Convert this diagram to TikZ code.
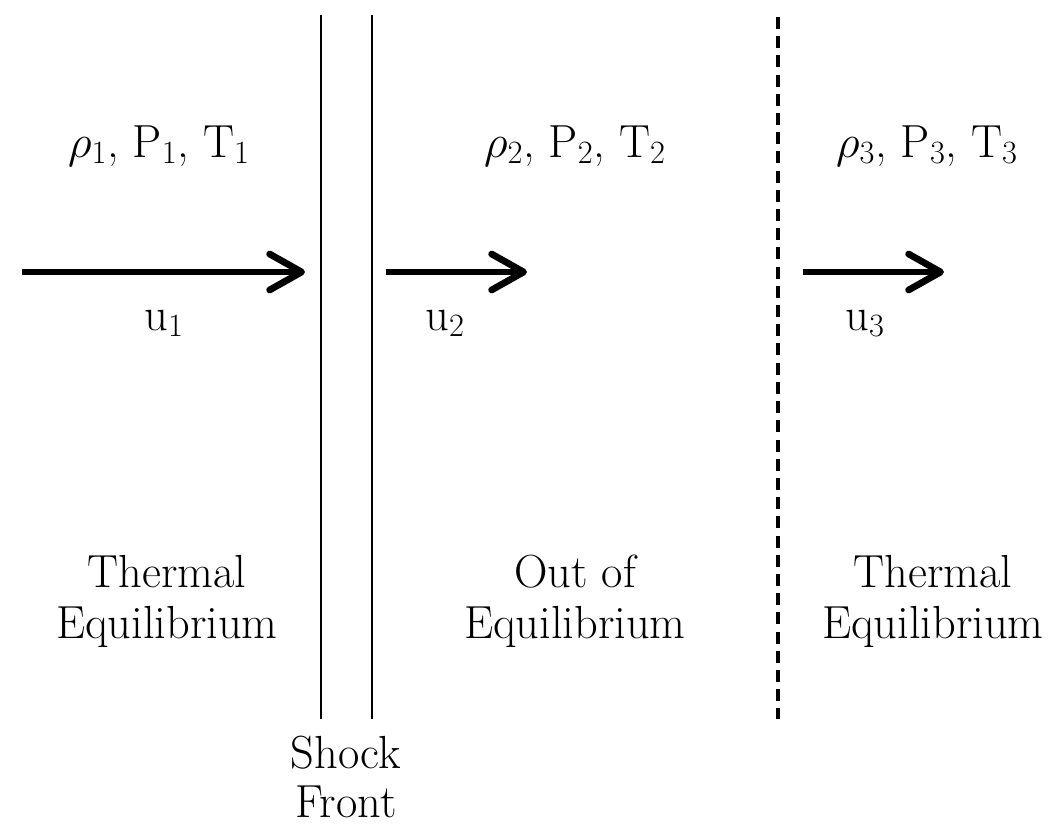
\RequirePackage{fix-cm}
\documentclass[tikz,border=0pt]{standalone}
\usetikzlibrary{arrows.meta}
\begin{document}
\begin{tikzpicture}[x=0.025cm,y=-0.025cm,
  every node/.style={inner sep=0pt, outer sep=0pt, anchor=base, font=\fontsize{33}{36}\selectfont},
  wall/.style={line width=2.1pt},
  relax/.style={line width=2.2pt, dash pattern=on 0.3cm off 0.18cm},
  flow/.style={line width=4.8pt, -{Straight Barb[length=0.8cm, width=0.9cm, round]}}]
\useasboundingbox (0,0) rectangle (1063,827);
% shock front lines and relaxation boundary
\coordinate (s1t) at (321,15);  \coordinate (s1b) at (321,719);
\coordinate (s2t) at (372,15);  \coordinate (s2b) at (372,719);
\coordinate (dt) at (778,17);   \coordinate (db) at (778,719);
\draw[wall] (s1t) -- (s1b);
\draw[wall] (s2t) -- (s2b);
\draw[relax] (dt) -- (db);
% flow arrows
\coordinate (a1s) at (22,272);  \coordinate (a1e) at (305,272);
\coordinate (a2s) at (386,272); \coordinate (a2e) at (527,272);
\coordinate (a3s) at (803,272); \coordinate (a3e) at (944,272);
\draw[flow] (a1s) -- (a1e);
\draw[flow] (a2s) -- (a2e);
\draw[flow] (a3s) -- (a3e);
% states
\node (st1) at (159,157) {$\rho_1$, P$_1$, T$_1$};
\node (st2) at (575,157) {$\rho_2$, P$_2$, T$_2$};
\node (st3) at (927,157) {$\rho_3$, P$_3$, T$_3$};
% velocities
\node (u1) at (164,330) {u$_1$};
\node (u2) at (445,330) {u$_2$};
\node (u3) at (865,330) {u$_3$};
% regions
\node (r1a) at (167,587) {Thermal};
\node (r1b) at (167,638) {Equilibrium};
\node (r2a) at (575,587) {Out of};
\node (r2b) at (575,638) {Equilibrium};
\node (r3a) at (933,587) {Thermal};
\node (r3b) at (933,638) {Equilibrium};
% shock label
\node (sh1) at (346,768) {Shock};
\node (sh2) at (346,817) {Front};
\end{tikzpicture}
\end{document}
